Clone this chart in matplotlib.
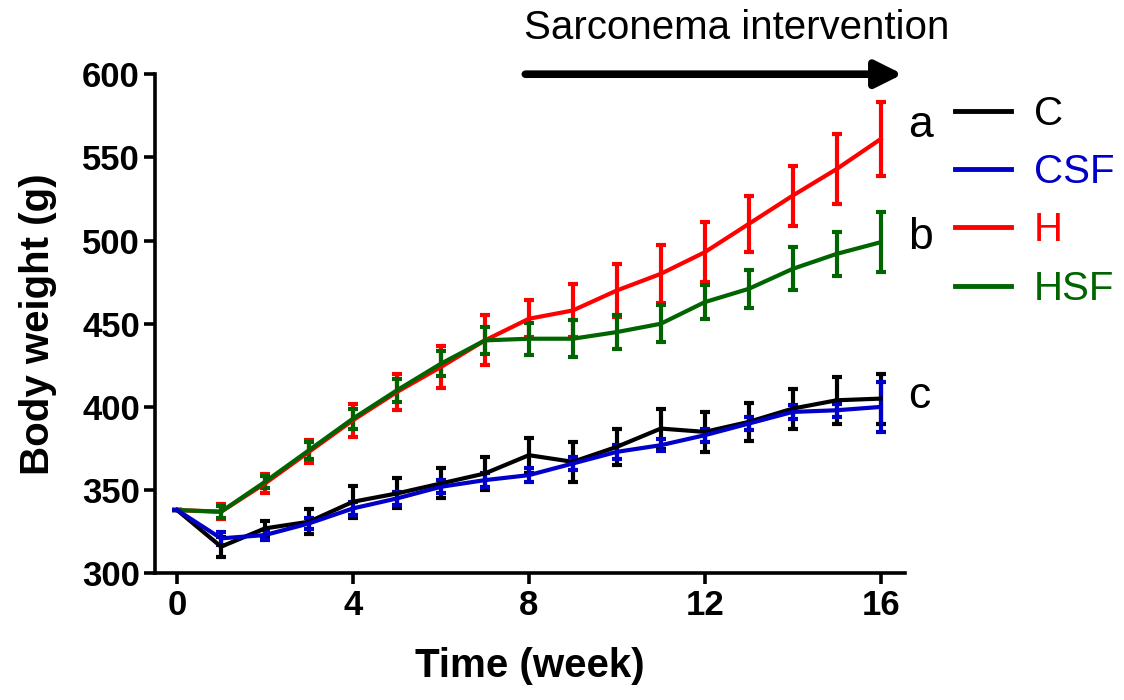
import matplotlib
matplotlib.use('Agg')
import matplotlib.pyplot as plt
from matplotlib.lines import Line2D

plt.rcParams['font.family'] = ['Liberation Sans', 'DejaVu Sans']

weeks = list(range(17))

c_mean = [338, 316, 327, 331, 343, 348, 354, 360, 371, 367, 376, 387, 385, 391, 399, 404, 405]
c_err = [0, 6, 4.5, 7.5, 9.5, 9, 9, 10, 10.5, 12, 11, 12, 12, 11.5, 12, 14, 15]
csf_mean = [338, 321, 323, 330, 339, 345, 352, 356, 359, 366, 373, 377, 383, 390, 397, 398, 400]
csf_err = [0, 4, 3, 3.5, 4, 4, 4, 4, 4, 4, 4, 3.5, 4, 4, 4, 4, 15]
h_mean = [338, 337, 354, 373, 392, 409, 424, 440, 453, 458, 470, 480, 493, 510, 527, 543, 561]
h_err = [0, 4.5, 5.5, 7, 10, 11, 12.5, 15, 11, 16, 16, 17.5, 18, 17, 18, 21, 22]
hsf_mean = [338, 337, 355, 374, 393, 410, 426, 440, 441, 441, 445, 450, 463, 471, 483, 492, 499]
hsf_err = [0, 3.5, 3.5, 5, 6, 7, 7.5, 8, 9.5, 11, 10, 11, 10, 11.5, 13, 13, 18]

groups = ['C', 'CSF', 'H', 'HSF']
colors = {'C': 'black', 'CSF': '#0000c8', 'H': '#ff0000', 'HSF': '#006400'}
series = {'C': (c_mean, c_err), 'CSF': (csf_mean, csf_err),
          'H': (h_mean, h_err), 'HSF': (hsf_mean, hsf_err)}

# significance letters next to the last point
sig_labels = ['a', 'b', 'c']
sig_y = [569, 502, 406]

fig = plt.figure(figsize=(11.24, 7.0), dpi=100)
ax = fig.add_axes([0.138, 0.181, 0.667, 0.713])

for g in ['H', 'HSF', 'C', 'CSF']:
    m, e = series[g]
    ax.errorbar(weeks, m, yerr=e, color=colors[g], lw=3, elinewidth=3,
                capsize=3.5, capthick=3, zorder=3)

ax.set_xlim(-0.5, 16.55)
ax.set_ylim(300, 600)
ax.set_xticks([0, 4, 8, 12, 16])
ax.set_yticks([300, 350, 400, 450, 500, 550, 600])
for s in ['top', 'right']:
    ax.spines[s].set_visible(False)
for s in ['left', 'bottom']:
    ax.spines[s].set_linewidth(2.6)
ax.tick_params(width=2.6, length=8, labelsize=25, pad=3)
for lab in ax.get_xticklabels() + ax.get_yticklabels():
    lab.set_fontweight('bold')

ax.set_xlabel('Time (week)', fontsize=29, fontweight='bold', labelpad=18)
ax.set_ylabel('Body weight (g)', fontsize=29, fontweight='bold', labelpad=18)

for lab, y in zip(sig_labels, sig_y):
    ax.text(16.62, y, lab, fontsize=32, va='center', ha='left')

# treatment period arrow
ax.annotate('', xy=(16.5, 600), xytext=(7.92, 600), annotation_clip=False,
            arrowprops=dict(arrowstyle='-|>', lw=5.5, color='black',
                            mutation_scale=40, shrinkA=0, shrinkB=0))
fig.text(737 / 1124, 1 - 28 / 700, 'Sarconema intervention', fontsize=29,
         ha='center', va='center')

handles = [Line2D([0], [0], color=colors[g], lw=3.5) for g in groups]
leg = fig.legend(handles, groups, loc='upper left', bbox_to_anchor=(0.85, 0.864),
                 frameon=False, fontsize=29, handlelength=1.37, handletextpad=0.58,
                 labelspacing=0.5, borderpad=0, borderaxespad=0)
for t, g in zip(leg.get_texts(), groups):
    t.set_color(colors[g])

fig.savefig('out.png', dpi=100)
